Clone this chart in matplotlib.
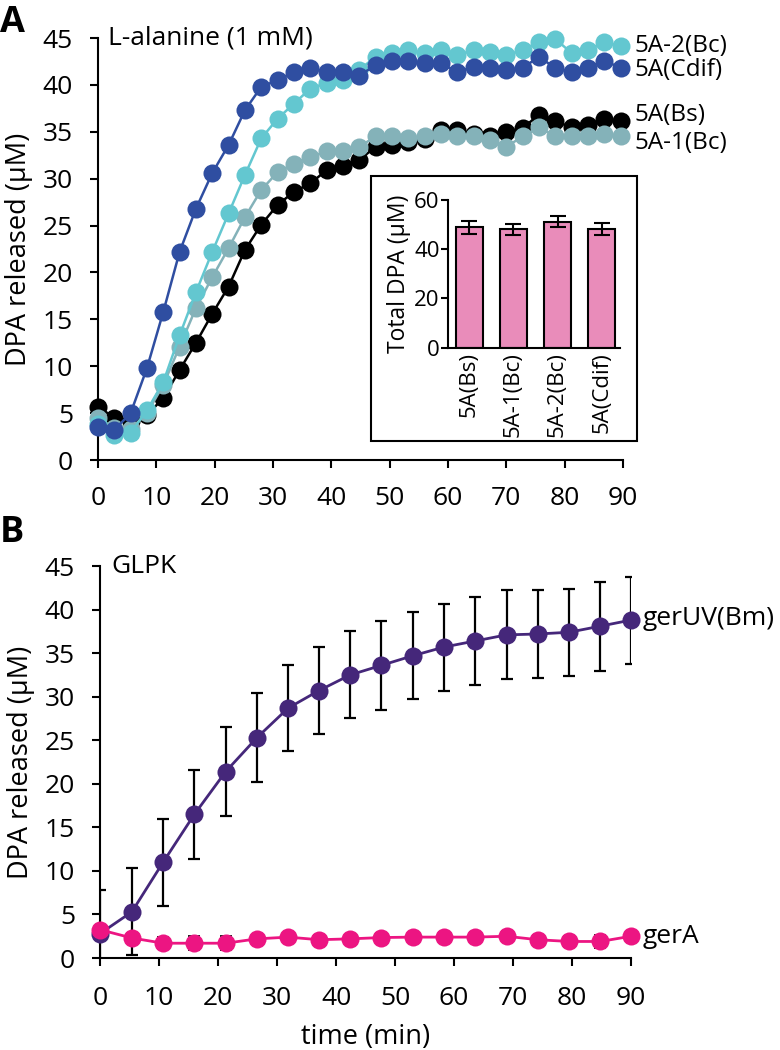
import numpy as np
import matplotlib
matplotlib.use('Agg')
import matplotlib.pyplot as plt
from matplotlib.patches import Rectangle

plt.rcParams['font.family'] = ['Open Sans', 'DejaVu Sans']
plt.rcParams['axes.linewidth'] = 1.5

# panel A: L-alanine time courses
t_a = [0, 2.8, 5.6, 8.4, 11.2, 14.0, 16.8, 19.6, 22.4, 25.2, 28.0, 30.8, 33.6,
       36.4, 39.2, 42.0, 44.8, 47.6, 50.4, 53.2, 56.0, 58.8, 61.6, 64.4, 67.2,
       70.0, 72.8, 75.6, 78.4, 81.2, 84.0, 86.8, 89.6]
bs = [5.7, 4.5, 4.2, 4.8, 6.6, 9.6, 12.5, 15.6, 18.5, 22.4, 25.1, 27.2, 28.6,
      29.5, 30.9, 31.4, 32.0, 33.4, 33.6, 33.9, 34.2, 35.2, 35.2, 34.8, 34.6,
      35.0, 35.4, 36.8, 36.1, 35.5, 35.7, 36.4, 36.1]
bc1 = [4.5, 3.4, 3.3, 5.0, 8.0, 12.1, 16.2, 19.5, 22.6, 25.9, 28.8, 30.7, 31.6,
       32.3, 32.9, 32.9, 33.4, 34.5, 34.5, 34.3, 34.5, 34.8, 34.6, 34.5, 34.1,
       33.4, 34.5, 35.5, 34.5, 34.5, 34.5, 34.8, 34.5]
bc2 = [3.8, 2.7, 2.9, 5.3, 8.3, 13.3, 17.9, 22.2, 26.3, 30.4, 34.3, 36.4, 38.0,
       39.6, 40.2, 40.5, 41.6, 43.0, 43.4, 43.7, 43.4, 43.7, 43.2, 43.7, 43.5,
       43.2, 43.7, 44.6, 44.9, 43.4, 43.7, 44.6, 44.1]
cdif = [3.55, 3.2, 5.0, 9.8, 15.8, 22.2, 26.8, 30.6, 33.6, 37.3, 39.8, 40.5, 41.4,
        41.8, 41.4, 41.4, 41.0, 42.1, 42.6, 42.5, 42.3, 42.3, 41.4, 41.9, 41.8,
        41.6, 41.8, 43.0, 41.8, 41.4, 41.8, 42.6, 41.8]

# inset: total DPA
strains = ['5A(Bs)', '5A-1(Bc)', '5A-2(Bc)', '5A(Cdif)']
total_dpa = [48.8, 48.0, 51.2, 48.3]
total_err = [2.6, 2.2, 2.4, 2.5]

# panel B: GLPK time courses
t_b = [0, 5.4, 10.7, 16.0, 21.3, 26.6, 31.9, 37.1, 42.4, 47.7, 53.0, 58.3,
       63.6, 68.9, 74.2, 79.5, 84.8, 90.0]
geruv = [2.8, 5.3, 11.0, 16.5, 21.4, 25.3, 28.7, 30.7, 32.5, 33.6, 34.7, 35.7,
         36.4, 37.1, 37.2, 37.4, 38.1, 38.8]
geruv_err = [5.0, 5.0, 5.0, 5.1, 5.1, 5.1, 4.9, 5.0, 5.0, 5.1, 5.0, 5.0,
             5.0, 5.1, 5.1, 5.0, 5.1, 5.0]
gera = [3.25, 2.3, 1.7, 1.7, 1.7, 2.2, 2.4, 2.1, 2.2, 2.35, 2.4, 2.4,
        2.4, 2.5, 2.1, 1.9, 1.9, 2.5]
gera_err = [0.5, 0.6, 0.7, 0.8, 0.8, 0.5, 0.5, 0.5, 0.5, 0.5, 0.5, 0.6,
            0.6, 0.6, 0.5, 0.6, 0.7, 0.5]

fig = plt.figure(figsize=(7.8, 10.5), dpi=100)
axA = fig.add_axes([0.1256, 0.5619, 0.673, 0.4019])
axB = fig.add_axes([0.1282, 0.0876, 0.6808, 0.3733])

ms = 13
series = [(bs, 'black', '5A(Bs)', 36.8),
          (bc1, '#84b2b9', '5A-1(Bc)', 33.8),
          (bc2, '#63c7d0', '5A-2(Bc)', 44.1),
          (cdif, '#2f4ea1', '5A(Cdif)', 41.6)]
for z, (y, c, name, ylab) in enumerate(series):
    axA.plot(t_a, y, '-o', color=c, lw=1.8, ms=ms, mew=0, zorder=3 + z, clip_on=False)
    axA.text(92, ylab, name, fontsize=17.5, va='center', ha='left')

axA.text(1.8, 45, 'L-alanine (1 mM)', fontsize=19, va='center', ha='left')

axB.errorbar(t_b, geruv, yerr=geruv_err, fmt='none', ecolor='black', elinewidth=1.6,
             capsize=4.5, capthick=1.6, zorder=2)
axB.plot(t_b, geruv, '-o', color='#45277a', lw=2, ms=ms, mew=0, zorder=3, clip_on=False)
axB.errorbar(t_b, gera, yerr=gera_err, fmt='none', ecolor='black', elinewidth=1.2,
             capsize=4.5, capthick=1.2, zorder=2)
axB.plot(t_b, gera, '-o', color='#ec1582', lw=2, ms=ms, mew=0, zorder=4, clip_on=False)
axB.text(92, 39.0, 'gerUV(Bm)', fontsize=19, va='center', ha='left')
axB.text(92, 2.5, 'gerA', fontsize=19, va='center', ha='left')
axB.text(2, 45, 'GLPK', fontsize=19, va='center', ha='left')
axB.set_xlabel('time (min)', fontsize=19.5, labelpad=9)

for ax in [axA, axB]:
    ax.set_xlim(0, 90)
    ax.set_ylim(0, 45)
    ax.set_xticks(np.arange(0, 91, 10))
    ax.set_yticks(np.arange(0, 46, 5))
    ax.spines['top'].set_visible(False)
    ax.spines['right'].set_visible(False)
    ax.tick_params(axis='both', direction='out', length=6, width=1.5, labelsize=19)
    ax.tick_params(axis='y', pad=12)
    ax.set_ylabel('DPA released (\u00b5M)', fontsize=19.5, labelpad=7)
axA.tick_params(axis='x', pad=12.5)
axB.tick_params(axis='x', pad=14)

# inset box and bar chart
fig.add_artist(Rectangle((0.4756, 0.58), 0.341, 0.2524, transform=fig.transFigure,
                         fill=False, lw=1.5, ec='black'))
axI = fig.add_axes([0.5744, 0.6689, 0.2205, 0.1407])
xi = np.arange(len(strains))
axI.bar(xi, total_dpa, width=0.61, color='#e98cba', edgecolor='black', lw=1.5, zorder=2)
axI.errorbar(xi, total_dpa, yerr=total_err, fmt='none', ecolor='black', elinewidth=1.5,
             capsize=6, capthick=1.5, zorder=3)
axI.set_xlim(-0.474, 3.41)
axI.set_ylim(0, 60)
axI.set_yticks([0, 20, 40, 60])
axI.set_xticks(xi)
axI.set_xticklabels(strains, rotation=90)
axI.spines['top'].set_visible(False)
axI.spines['right'].set_visible(False)
axI.tick_params(axis='x', length=0, pad=3, labelsize=16)
axI.tick_params(axis='y', direction='out', length=5, width=1.5, labelsize=16, pad=1)
axI.set_ylabel('Total DPA (\u00b5M)', fontsize=16.5, labelpad=2)

fig.text(0.0, 0.995, 'A', fontsize=26, fontweight='bold', va='top', ha='left')
fig.text(0.0, 0.51, 'B', fontsize=26, fontweight='bold', va='top', ha='left')

plt.savefig('out.png', dpi=100)
